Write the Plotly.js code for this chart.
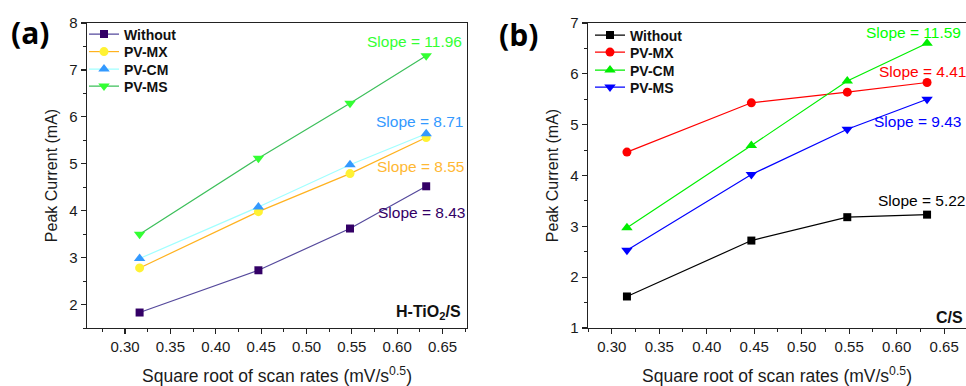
<!DOCTYPE html>
<html><head><meta charset="utf-8">
<script src="https://cdn.plot.ly/plotly-3.0.1.min.js"></script>
<style>html,body{margin:0;padding:0;background:#fff}#chart{width:966px;height:386px}</style>
</head><body><div id="chart"></div>
<script>
// ---- data ----
const xValues = [0.316, 0.447, 0.548, 0.632];
const seriesNames = ['Without', 'PV-MX', 'PV-CM', 'PV-MS'];
const aWithout = [1.83, 2.73, 3.62, 4.52];
const aPVMX = [2.78, 3.98, 4.79, 5.56];
const aPVCM = [2.98, 4.08, 4.98, 5.64];
const aPVMS = [3.50, 5.12, 6.29, 7.30];
const bWithout = [1.62, 2.72, 3.18, 3.23];
const bPVMX = [4.46, 5.43, 5.64, 5.83];
const bPVCM = [2.97, 4.59, 5.86, 6.60];
const bPVMS = [2.53, 4.02, 4.91, 5.50];
const aSlopes = ['8.43', '8.55', '8.71', '11.96'];
const bSlopes = ['5.22', '4.41', '11.59', '9.43'];
const xTickVals = [0.30, 0.35, 0.40, 0.45, 0.50, 0.55, 0.60, 0.65];
const xTickText = ['0.30', '0.35', '0.40', '0.45', '0.50', '0.55', '0.60', '0.65'];
const aYTicks = [2, 3, 4, 5, 6, 7, 8];
const bYTicks = [1, 2, 3, 4, 5, 6, 7];
const panelLabels = ['(a)', '(b)'];
const materialLabels = ['H-TiO<sub>2</sub>/S', 'C/S'];

// ---- styles ----
const W = 966, H = 386;
const px = v => v / W, py = v => 1 - v / H;
const FONT = 'Liberation Sans, Arial, sans-serif';
const symbols = ['square', 'circle', 'triangle-up', 'triangle-down'];
const mSizes = [8, 9, 10, 10];
const aLine = ['#55499c', '#ffb21f', '#a0ffff', '#3cbf5a'];
const aMark = ['#330066', '#fff233', '#3399ff', '#33ff33'];
const aText = ['#330066', '#ffb833', '#3399ff', '#33ff33'];
const bCol = ['#000000', '#ff0000', '#00ee00', '#0000ff'];
const bText = ['#000000', '#ff0000', '#00ff00', '#0000ff'];

const aData = [aWithout, aPVMX, aPVCM, aPVMS];
const bData = [bWithout, bPVMX, bPVCM, bPVMS];

const legName = k => (k === 0 ? 'legend' : 'legend' + (k + 1));
const traces = [];
aData.forEach((ys, i) => traces.push({
  x: xValues, y: ys, name: seriesNames[i], type: 'scatter', mode: 'lines+markers',
  xaxis: 'x', yaxis: 'y', legend: legName(i),
  line: {color: aLine[i], width: 1.2},
  marker: {symbol: symbols[i], size: mSizes[i], color: aMark[i], line: {width: 0}}
}));
bData.forEach((ys, i) => traces.push({
  x: xValues, y: ys, name: seriesNames[i], type: 'scatter', mode: 'lines+markers',
  xaxis: 'x2', yaxis: 'y2', legend: legName(4 + i),
  line: {color: bCol[i], width: 1.2},
  marker: {symbol: symbols[i], size: mSizes[i], color: bCol[i], line: {width: 0}}
}));

const yDom = [58 / H, 363 / H];
const tickFont = {family: FONT, size: 15, color: '#1a1a1a'};
function xAxis(dom, range, mirror) {
  return {
    domain: dom, range: range, tickvals: xTickVals, ticktext: xTickText,
    ticks: 'outside', ticklen: 5, tickwidth: 1.2, tickcolor: '#222',
    minor: {ticks: 'outside', ticklen: 3, tickwidth: 1, tickcolor: '#222', dtick: 0.025, tick0: 0.3, showgrid: false},
    showline: true, linecolor: '#222', linewidth: 1.3, mirror: mirror,
    showgrid: false, zeroline: false, tickfont: tickFont,
    title: {text: 'Square root of scan rates (mV/s<sup>0.5</sup>)', font: {family: FONT, size: 17.5, color: '#1a1a1a'}, standoff: 16}
  };
}
function yAxis(range, tv, mirror, anchor) {
  return {
    domain: yDom, range: range, tickvals: tv, anchor: anchor,
    ticks: 'outside', ticklen: 5, tickwidth: 1.2, tickcolor: '#222',
    minor: {ticks: 'outside', ticklen: 3, tickwidth: 1, tickcolor: '#222', dtick: 0.5, showgrid: false},
    showline: true, linecolor: '#222', linewidth: 1.3, mirror: mirror,
    showgrid: false, zeroline: false, tickfont: tickFont,
    title: {text: 'Peak Current (mA)', font: {family: FONT, size: 16, color: '#1a1a1a'}, standoff: 7}
  };
}

const ann = [];
function A(text, x, y, color, opts) {
  ann.push(Object.assign({text: text, xref: 'paper', yref: 'paper', x: px(x), y: py(y),
    xanchor: 'center', yanchor: 'middle', showarrow: false,
    font: {family: FONT, size: 15.5, color: color}}, opts || {}));
}
const aSlopePos = [[421, 213], [420, 166], [419, 121], [414, 42]];
aSlopes.forEach((s, i) => A('Slope = ' + s, aSlopePos[i][0], aSlopePos[i][1], aText[i]));
const bSlopePos = [[876, 201, 'left'], [922, 71, 'center'], [913, 33, 'center'], [917, 121, 'center']];
bSlopes.forEach((s, i) => A('Slope = ' + s, bSlopePos[i][0], bSlopePos[i][1], bText[i], {xanchor: bSlopePos[i][2]}));
A(materialLabels[0], 463, 312, '#111', {xanchor: 'right', font: {family: FONT, size: 16, color: '#111', weight: 'bold'}});
A(materialLabels[1], 965, 317, '#111', {xanchor: 'right', font: {family: FONT, size: 16, color: '#111', weight: 'bold'}});
A(panelLabels[0], 30, 33, '#000', {font: {family: 'Open Sans, sans-serif', size: 30, color: '#000', weight: 'bold'}});
A(panelLabels[1], 518, 35, '#000', {font: {family: 'Open Sans, sans-serif', size: 30, color: '#000', weight: 'bold'}});

const legFont = {family: FONT, size: 14, color: '#111', weight: 'bold'};
// each legend row is its own legend box, so the row spacing follows the reference
const legRowsA = [35, 52.5, 70, 87];
const legRowsB = [36, 53, 71, 88];
const layout = {
  width: W, height: H, margin: {l: 0, r: 0, t: 0, b: 0},
  paper_bgcolor: '#fff', plot_bgcolor: '#fff', showlegend: true,
  xaxis: xAxis([87 / W, 467 / W], [0.258, 0.677], true),
  yaxis: yAxis([1.5, 8], aYTicks, true, 'x'),
  xaxis2: Object.assign(xAxis([588 / W, 1], [0.275, 0.673], true), {anchor: 'y2'}),
  yaxis2: yAxis([1, 7], bYTicks, false, 'x2'),
  annotations: ann
};
legRowsA.concat(legRowsB).forEach((c, k) => {
  layout[legName(k)] = {x: px(k < 4 ? 84 : 590), y: py(c - 16.5), xanchor: 'left', yanchor: 'top',
    bgcolor: 'rgba(0,0,0,0)', borderwidth: 0, font: legFont};
});
Plotly.newPlot('chart', traces, layout, {staticPlot: true, displayModeBar: false});
</script>
</body></html>
